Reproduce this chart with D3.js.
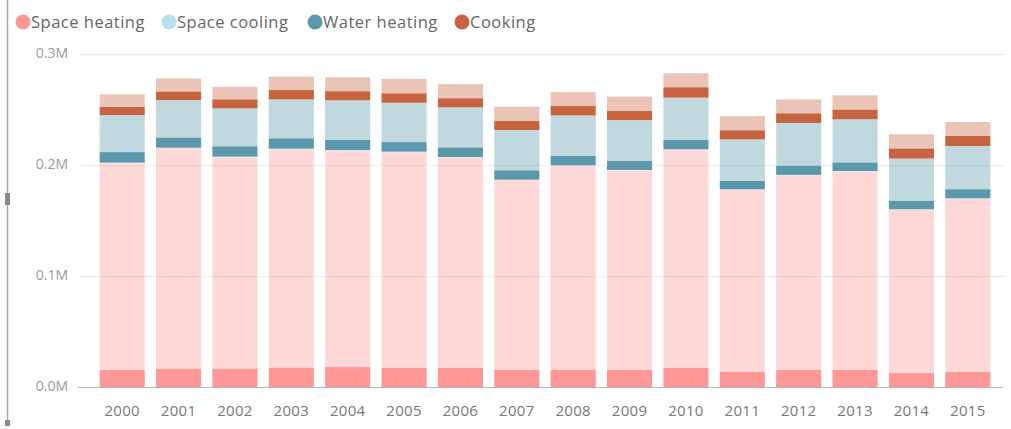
<!DOCTYPE html>
<html lang="en">
<head>
  <meta charset="UTF-8">
  <title>Household energy use</title>
  <style>
    body { margin: 0; background: #fff; font-family: "Open Sans", "DejaVu Sans", sans-serif; }
    .y-axis text { font-size: 14px; fill: #9a9a9a; }
    .x-axis text { font-size: 15px; fill: #777; letter-spacing: 0.3px; }
    .legend-text { font-size: 16.5px; fill: #666; letter-spacing: 0.5px; }
  </style>
</head>
<body>
  <div id="chart-container"></div>

  <script src="https://d3js.org/d3.v7.min.js"></script>
  <script>
    // values (units); "hl" = highlighted part of each series
    const years = ["2000", "2001", "2002", "2003", "2004", "2005", "2006", "2007",
                   "2008", "2009", "2010", "2011", "2012", "2013", "2014", "2015"];
    const seriesNames = ["Space heating", "Space cooling", "Water heating", "Cooking"];

    const spaceHeating   = [201500, 215000, 206900, 214100, 212900, 211400, 206600, 186200,
                            199100, 194900, 213500, 177500, 190500, 194000, 159500, 169400];
    const spaceHeatingHl = [15300, 16200, 16200, 17400, 18000, 17100, 17100, 15300,
                            15300, 15300, 17100, 13500, 15300, 15300, 12600, 13500];
    const spaceCooling   = [600, 600, 600, 600, 600, 600, 600, 600,
                            600, 600, 600, 600, 600, 600, 600, 600];
    const spaceCoolingHl = [0, 0, 0, 0, 0, 0, 0, 0, 0, 0, 0, 0, 0, 0, 0, 0];
    const waterHeating   = [42900, 42900, 43500, 44400, 44800, 44100, 44800, 44700,
                            45000, 45000, 46600, 45000, 46800, 46600, 45700, 47100];
    const waterHeatingHl = [9500, 9000, 9300, 9300, 9000, 8600, 8500, 8400,
                            8400, 8100, 8400, 7500, 8100, 7600, 7500, 8100];
    const cooking        = [18600, 19500, 19500, 20500, 20700, 21600, 21000, 21100,
                            21000, 21100, 21900, 21000, 21200, 21600, 21900, 21600];
    const cookingHl      = [7200, 7600, 8100, 8400, 8100, 8400, 8100, 8100,
                            8400, 8100, 9300, 8100, 8600, 8600, 9000, 9000];

    const yTicks = [0, 100000, 200000, 300000];
    const colors = ["#fd9896", "#b3e1ec", "#5b98ab", "#c7643f"];

    const totals = [spaceHeating, spaceCooling, waterHeating, cooking];
    const highlights = [spaceHeatingHl, spaceCoolingHl, waterHeatingHl, cookingHl];

    const width = 1011, height = 429;
    const svg = d3.select('#chart-container')
      .append('svg')
      .attr('width', width)
      .attr('height', height);

    const xScale = d3.scaleBand()
      .domain(years)
      .range([94, 996])
      .paddingInner(0.2)
      .paddingOuter(0.1);

    const yScale = d3.scaleLinear()
      .domain([0, 300000])
      .range([387, 54]);

    // gridlines
    svg.append('g')
      .selectAll('line')
      .data(yTicks.slice(1))
      .enter()
      .append('line')
      .attr('x1', 80)
      .attr('x2', 1005)
      .attr('y1', d => Math.round(yScale(d)) + 0.5)
      .attr('y2', d => Math.round(yScale(d)) + 0.5)
      .attr('stroke', '#ececec')
      .attr('stroke-width', 1);

    // build stacked segments: each series -> highlighted (bottom) + faded rest
    const segments = [];
    years.forEach((yr, i) => {
      let base = 0;
      totals.forEach((arr, s) => {
        const total = arr[i];
        const hl = highlights[s][i];
        segments.push({ year: yr, s, y0: base, y1: base + hl, faded: false });
        segments.push({ year: yr, s, y0: base + hl, y1: base + total, faded: true });
        base += total;
      });
    });

    svg.append('g')
      .selectAll('rect')
      .data(segments.filter(d => d.y1 > d.y0))
      .enter()
      .append('rect')
      .attr('x', d => xScale(d.year))
      .attr('width', xScale.bandwidth())
      .attr('y', d => yScale(d.y1))
      .attr('height', d => yScale(d.y0) - yScale(d.y1))
      .attr('fill', d => colors[d.s])
      .attr('fill-opacity', d => d.faded ? 0.38 : 1);

    // baseline
    svg.append('line')
      .attr('x1', 78).attr('x2', 1003)
      .attr('y1', 387.5).attr('y2', 387.5)
      .attr('stroke', '#b5b5b5');

    // y axis labels
    svg.append('g')
      .attr('class', 'y-axis')
      .selectAll('text')
      .data(yTicks)
      .enter()
      .append('text')
      .attr('x', 68)
      .attr('y', d => yScale(d) - 1)
      .attr('dy', '0.35em')
      .attr('text-anchor', 'end')
      .text(d => d3.format('.1f')(d / 1e6) + 'M');

    // x axis labels
    svg.append('g')
      .attr('class', 'x-axis')
      .selectAll('text')
      .data(years)
      .enter()
      .append('text')
      .attr('x', d => xScale(d) + xScale.bandwidth() / 2)
      .attr('y', 416)
      .attr('text-anchor', 'middle')
      .text(d => d);

    // legend
    const legendX = [23, 169, 315, 462];
    const legend = svg.append('g');
    seriesNames.forEach((name, i) => {
      legend.append('circle')
        .attr('cx', legendX[i])
        .attr('cy', 22)
        .attr('r', 7.5)
        .attr('fill', colors[i]);
      legend.append('text')
        .attr('class', 'legend-text')
        .attr('x', legendX[i] + 8)
        .attr('y', 28)
        .text(name);
    });

    // selection frame on the left edge
    svg.append('line')
      .attr('x1', 7.5).attr('x2', 7.5)
      .attr('y1', 0).attr('y2', 424)
      .attr('stroke', '#a8a8a8')
      .attr('stroke-width', 1.5);
    svg.append('rect')
      .attr('x', 5).attr('y', 193)
      .attr('width', 5).attr('height', 12)
      .attr('fill', '#8a8a8a');
    svg.append('rect')
      .attr('x', 5).attr('y', 420)
      .attr('width', 5).attr('height', 6)
      .attr('fill', '#8a8a8a');
  </script>
</body>
</html>
